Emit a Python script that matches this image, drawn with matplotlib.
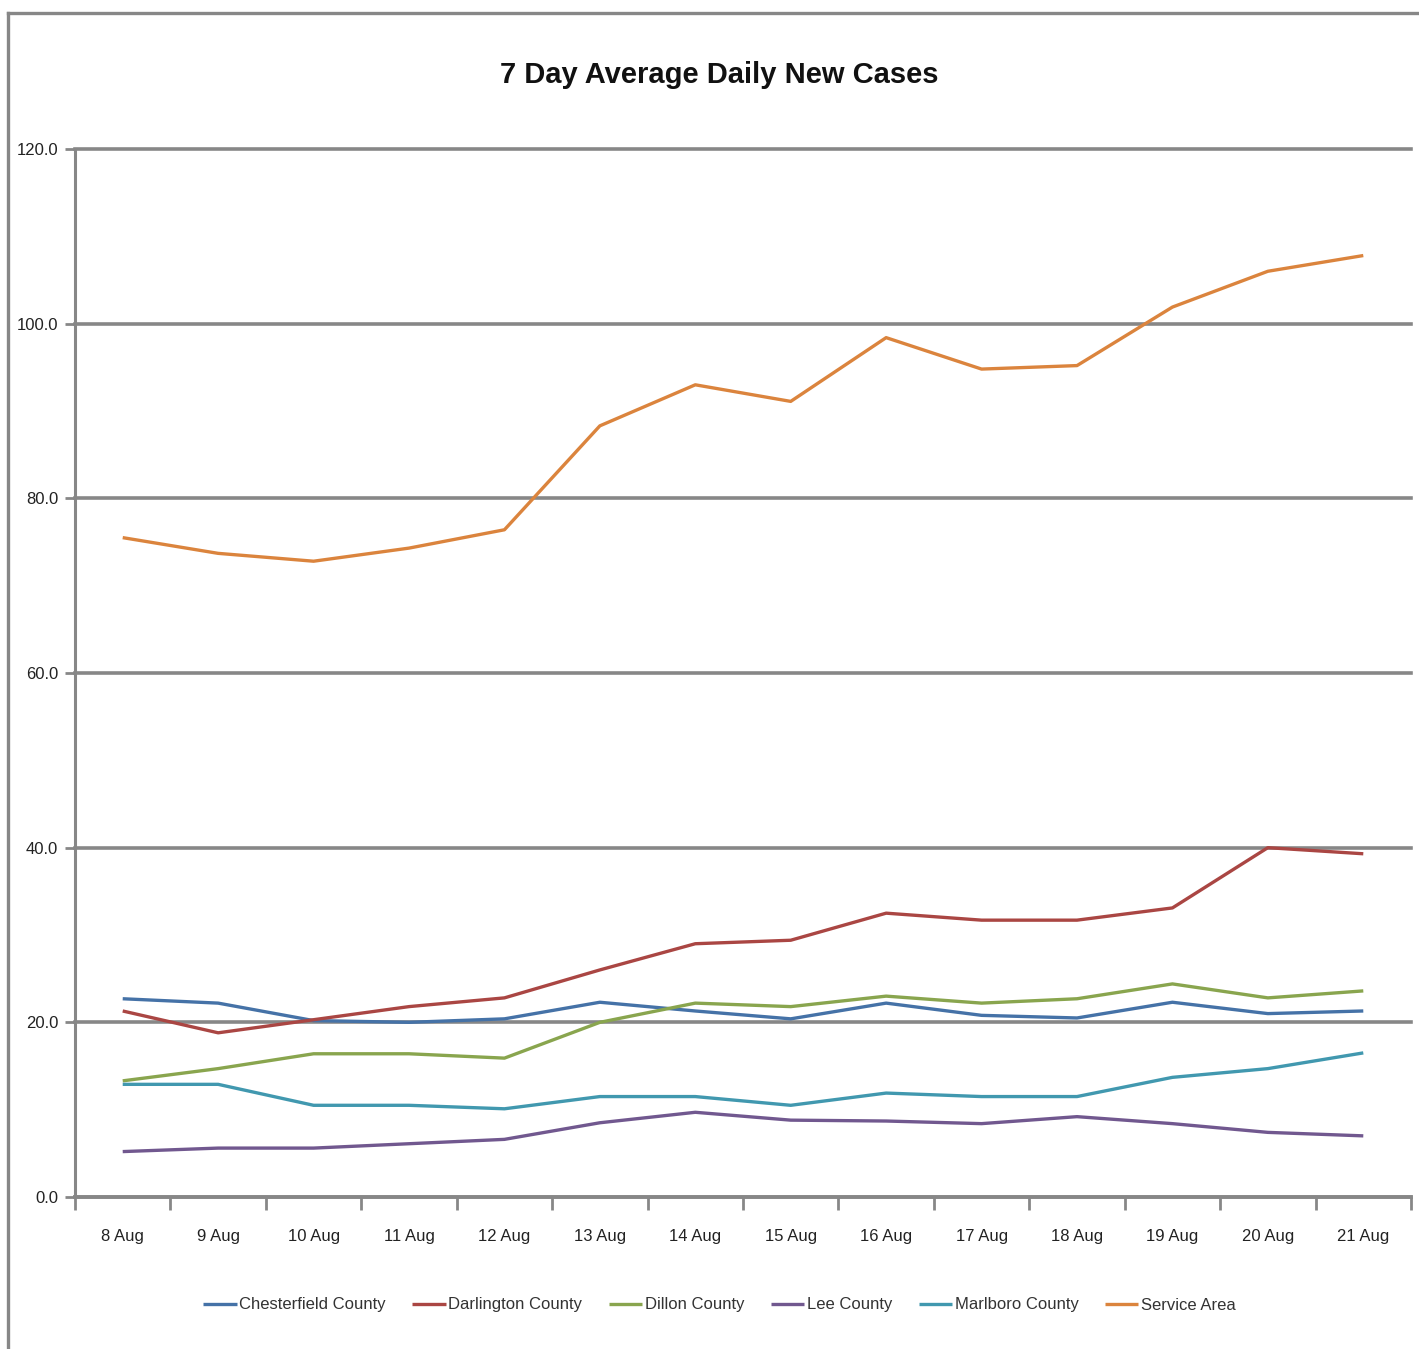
import matplotlib
matplotlib.use("Agg")
import matplotlib.pyplot as plt
from matplotlib.lines import Line2D
import numpy as np

days = ["8 Aug", "9 Aug", "10 Aug", "11 Aug", "12 Aug", "13 Aug", "14 Aug",
        "15 Aug", "16 Aug", "17 Aug", "18 Aug", "19 Aug", "20 Aug", "21 Aug"]

chesterfield = [22.7, 22.2, 20.2, 20.0, 20.4, 22.3, 21.3, 20.4, 22.2, 20.8, 20.5, 22.3, 21.0, 21.3]
darlington = [21.3, 18.8, 20.3, 21.8, 22.8, 26.0, 29.0, 29.4, 32.5, 31.7, 31.7, 33.1, 40.0, 39.3]
dillon = [13.3, 14.7, 16.4, 16.4, 15.9, 20.0, 22.2, 21.8, 23.0, 22.2, 22.7, 24.4, 22.8, 23.6]
lee = [5.2, 5.6, 5.6, 6.1, 6.6, 8.5, 9.7, 8.8, 8.7, 8.4, 9.2, 8.4, 7.4, 7.0]
marlboro = [12.9, 12.9, 10.5, 10.5, 10.1, 11.5, 11.5, 10.5, 11.9, 11.5, 11.5, 13.7, 14.7, 16.5]
service_area = [75.5, 73.7, 72.8, 74.3, 76.4, 88.3, 93.0, 91.1, 98.4, 94.8, 95.2, 101.9, 106.0, 107.8]

series = [
    ("Chesterfield County", chesterfield, "#4572A7"),
    ("Darlington County", darlington, "#AA4643"),
    ("Dillon County", dillon, "#89A54E"),
    ("Lee County", lee, "#71588F"),
    ("Marlboro County", marlboro, "#4198AF"),
    ("Service Area", service_area, "#DB843D"),
]

plt.rcParams["font.family"] = ["Liberation Sans", "DejaVu Sans"]

grid_col = "#878787"

fig = plt.figure(figsize=(14.19, 13.49), dpi=100)
ax = fig.add_axes([75 / 1419, 1 - 1197 / 1349, (1411 - 75) / 1419, (1197 - 149) / 1349])

x = np.arange(len(days))
for name, vals, col in series:
    ax.plot(x, vals, color=col, lw=2.4, label=name, solid_capstyle="butt")

ax.set_xlim(-0.5, len(days) - 0.5)
ax.set_ylim(0, 120)
ax.set_yticks(np.arange(0, 121, 20))
ax.set_yticklabels([f"{v:.1f}" for v in np.arange(0, 121, 20)], fontsize=12, color="#222222")
ax.yaxis.grid(True, color=grid_col, lw=2.6)
for gl in ax.get_ygridlines():
    gl.set_clip_on(False)
ax.set_axisbelow(True)
ax.tick_params(axis="y", length=7, width=2, color=grid_col, pad=5)

ax.set_xticks(x)
ax.set_xticklabels(days, fontsize=12, color="#222222")
ax.set_xticks(np.arange(-0.5, len(days), 1), minor=True)
ax.tick_params(axis="x", which="major", length=0, pad=23)
ax.tick_params(axis="x", which="minor", length=9, width=2, color=grid_col)

for s in ["top", "right"]:
    ax.spines[s].set_visible(False)
ax.spines["left"].set_color(grid_col)
ax.spines["left"].set_linewidth(2.2)
ax.spines["bottom"].set_color(grid_col)
ax.spines["bottom"].set_linewidth(2.6)

fig.text(0.507, 1 - 75 / 1349, "7 Day Average Daily New Cases", ha="center", va="center",
         fontsize=21, fontweight="bold", color="#111111")

leg = fig.legend(loc="center", bbox_to_anchor=(0.507, 1 - 1305 / 1349), ncol=6, frameon=False,
                 fontsize=12, handlelength=2.0, handletextpad=0.15, columnspacing=1.6)
for t in leg.get_texts():
    t.set_color("#333333")

# outer chart frame (left and top edges only visible)
fig.add_artist(Line2D([8 / 1419, 8 / 1419], [0, 1 - 13 / 1349], transform=fig.transFigure,
                      color=grid_col, lw=2.4))
fig.add_artist(Line2D([8 / 1419, 1], [1 - 13 / 1349, 1 - 13 / 1349], transform=fig.transFigure,
                      color=grid_col, lw=2.4))

fig.savefig("out.png", dpi=100, facecolor="white")
